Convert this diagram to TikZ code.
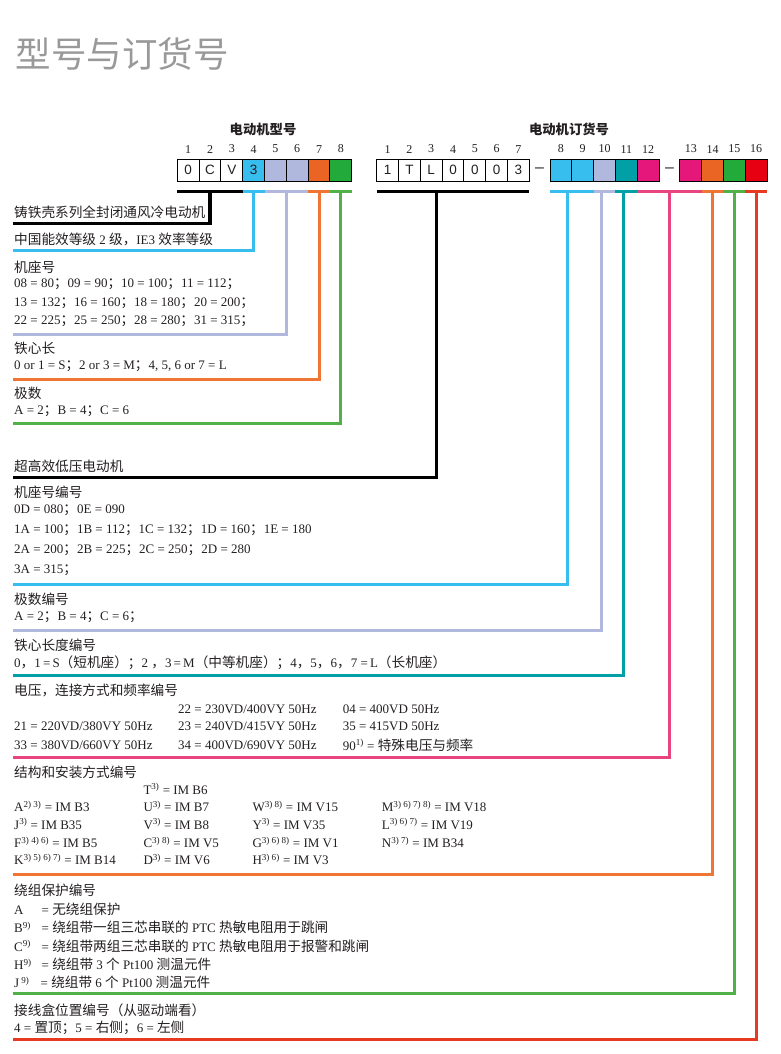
\documentclass[tikz,border=0pt]{standalone}
\usepackage{fontspec}
\setmainfont{Liberation Serif}
\setsansfont{Liberation Sans}
\newfontfamily\cjk[Scale=1.05]{Noto Sans CJK SC}
\usetikzlibrary{positioning,calc}
\newcommand\zh[1]{{\cjk #1}}
\newcommand\fn[1]{\textsuperscript{#1}}
\definecolor{ink}{HTML}{231F20}
\definecolor{titlegray}{HTML}{999999}
\definecolor{cblue}{HTML}{38BDEF}
\definecolor{clav}{HTML}{B0B8DE}
\definecolor{corange}{HTML}{EA6424}
\definecolor{cgreen}{HTML}{22AA3A}
\definecolor{cteal}{HTML}{00A0A6}
\definecolor{cpink}{HTML}{E5177A}
\definecolor{cred}{HTML}{E60012}
\definecolor{lorange}{HTML}{EE7533}
\definecolor{lgreen}{HTML}{52B049}
\definecolor{lpink}{HTML}{E84480}
\definecolor{lred}{HTML}{E83A22}
\tikzstyle{cell}=[draw, line width=1pt, minimum size=21.8pt, inner sep=0pt, outer sep=0pt,
  font=\sffamily\fontsize{13.5}{14}\selectfont, text=ink]
\tikzstyle{num}=[inner sep=0pt, font=\fontsize{12}{12}\selectfont, text=ink]
\tikzstyle{head}=[inner sep=0pt, font=\cjk\bfseries\fontsize{12.7}{14}\selectfont, text=ink]
\tikzstyle{txt}=[anchor=west, inner sep=0pt, font=\fontsize{13}{15}\selectfont, text=ink]
\tikzstyle{bar}=[line width=3pt]
\tikzstyle{link}=[line width=3pt, line join=miter]

\begin{document}
\begin{tikzpicture}[x=1pt,y=-1pt]
  \useasboundingbox (0,0) rectangle (781,1054);
  \node[anchor=west, inner sep=0pt, text=titlegray, font=\cjk\fontsize{33.8}{36}\selectfont]
    (title) at (15.5,53.5) {型号与订货号};

  \node[head] (typehead) at (263,129) {电动机型号};
  \node[head] (orderhead) at (569,129) {电动机订货号};

  \foreach \i/\t/\f in {1/0/white,2/C/white,3/V/white,4/3/cblue,5//clav,6//clav,7//corange,8//cgreen}{
    \node[cell, fill=\f] (a\i) at ({177.3+21.8*(\i-0.5)},170.2) {\t};
    \node[num, above=6pt of a\i] (na\i) {\i};
  }
  \foreach \i/\t in {1/1,2/T,3/L,4/0,5/0,6/0,7/3}{
    \node[cell] (b\i) at ({376.7+21.8*(\i-0.5)},170.2) {\t};
    \node[num, above=6pt of b\i] (nb\i) {\i};
  }
  \foreach \i/\f in {8/cblue,9/cblue,10/clav,11/cteal,12/cpink}{
    \node[cell, fill=\f] (c\i) at ({550+21.8*(\i-7.5)},170.2) {};
    \node[num, above=6pt of c\i] (nc\i) {\i};
  }
  \foreach \i/\f in {13/cpink,14/corange,15/cgreen,16/cred}{
    \node[cell, fill=\f] (d\i) at ({680+21.75*(\i-12.5)},170.2) {};
    \node[num, above=6pt of d\i] (nd\i) {\i};
  }
  \node[inner sep=0pt, text=ink, font=\sffamily\fontsize{16}{16}\selectfont]
    (dashA) at ($(b7.east)!.5!(c8.west)$) {\textendash};
  \node[inner sep=0pt, text=ink, font=\sffamily\fontsize{16}{16}\selectfont]
    (dashB) at ($(c12.east)!.5!(d13.west)$) {\textendash};

  \draw[bar, black] ([yshift=-10pt]a1.south west) -- ([yshift=-10pt]a3.south east);
  \draw[bar, cblue] ([yshift=-10pt]a4.south west) -- ([yshift=-10pt]a4.south east);
  \draw[bar, clav] ([yshift=-10pt]a5.south west) -- ([yshift=-10pt]a6.south east);
  \draw[bar, lorange] ([yshift=-10pt]a7.south west) -- ([yshift=-10pt]a7.south east);
  \draw[bar, lgreen] ([yshift=-10pt]a8.south west) -- ([yshift=-10pt]a8.south east);
  \draw[bar, black] ([yshift=-10pt]b1.south west) -- ([yshift=-10pt]b7.south east);
  \draw[bar, cblue] ([yshift=-10pt]c8.south west) -- ([yshift=-10pt]c9.south east);
  \draw[bar, clav] ([yshift=-10pt]c10.south west) -- ([yshift=-10pt]c10.south east);
  \draw[bar, cteal] ([yshift=-10pt]c11.south west) -- ([yshift=-10pt]c11.south east);
  \draw[bar, lpink] ([yshift=-10pt]c12.south west) -- ([yshift=-10pt]d13.south east);
  \draw[bar, lorange] ([yshift=-10pt]d14.south west) -- ([yshift=-10pt]d14.south east);
  \draw[bar, lgreen] ([yshift=-10pt]d15.south west) -- ([yshift=-10pt]d15.south east);
  \draw[bar, lred] ([yshift=-10pt]d16.south west) -- ([yshift=-10pt]d16.south east);

  \coordinate (kseries) at ([yshift=-10pt]a2.south);
  \coordinate (keff) at ([yshift=-10pt]a4.south);
  \coordinate (kframe) at ([yshift=-10pt]a5.south east);
  \coordinate (kcore) at ([yshift=-10pt]a7.south);
  \coordinate (kpole) at ([yshift=-10pt]a8.south);
  \coordinate (kmotor) at ([xshift=5.5pt,yshift=-10pt]b3.south);
  \coordinate (kframeno) at ([xshift=6.8pt,yshift=-10pt]c8.south);
  \coordinate (kpoleno) at ([xshift=-3.5pt,yshift=-10pt]c10.south);
  \coordinate (kcoreno) at ([xshift=-3pt,yshift=-10pt]c11.south);
  \coordinate (kvolt) at ([yshift=-10pt]$(c12.south east)!.5!(d13.south west)$);
  \coordinate (kmount) at ([yshift=-10pt]d14.south);
  \coordinate (kwind) at ([yshift=-10pt]d15.south);
  \coordinate (kbox) at ([yshift=-10pt]d16.south);

  \coordinate (eseries) at (13,223.3);
  \coordinate (eeff) at (13,250);
  \coordinate (eframe) at (13,334);
  \coordinate (ecore) at (13,379.3);
  \coordinate (epole) at (13,423.3);
  \coordinate (emotor) at (13,477.3);
  \coordinate (eframeno) at (13,584.7);
  \coordinate (epoleno) at (13,630.7);
  \coordinate (ecoreno) at (13,675.5);
  \coordinate (evolt) at (13,757.7);
  \coordinate (emount) at (13,874.7);
  \coordinate (ewind) at (13,993.3);
  \coordinate (ebox) at (13,1039.3);

  \draw[link, black, line width=3.5pt] (kseries) |- (eseries);
  \draw[link, cblue] (keff) |- (eeff);
  \draw[link, clav] (kframe) |- (eframe);
  \draw[link, lorange] (kcore) |- (ecore);
  \draw[link, lgreen] (kpole) |- (epole);
  \draw[link, black, line width=3.5pt] (kmotor) |- (emotor);
  \draw[link, cblue] (kframeno) |- (eframeno);
  \draw[link, clav] (kpoleno) |- (epoleno);
  \draw[link, cteal] (kcoreno) |- (ecoreno);
  \draw[link, lpink] (kvolt) |- (evolt);
  \draw[link, lorange] (kmount) |- (emount);
  \draw[link, lgreen] (kwind) |- (ewind);
  \draw[link, lred] (kbox) |- (ebox);

  \node[txt] (series) at (14,212) {\zh{铸铁壳系列全封闭通风冷电动机}};
  \node[txt] (eff) at (14,239.3) {\zh{中国能效等级} 2 \zh{级，}IE3 \zh{效率等级}};
  \node[txt] (frame) at (14,267) {\zh{机座号}};
  \node[txt] (frameA) at (14,284.3) {08 = 80\zh{；}09 = 90\zh{；}10 = 100\zh{；}11 = 112\zh{；}};
  \node[txt] (frameB) at (14,303) {13 = 132\zh{；}16 = 160\zh{；}18 = 180\zh{；}20 = 200\zh{；}};
  \node[txt] (frameC) at (14,321) {22 = 225\zh{；}25 = 250\zh{；}28 = 280\zh{；}31 = 315\zh{；}};
  \node[txt] (core) at (14,348) {\zh{铁心长}};
  \node[txt] (coreA) at (14,366) {0 or 1 = S\zh{；}2 or 3 = M\zh{；}4, 5, 6 or 7 = L};
  \node[txt] (pole) at (14,393) {\zh{极数}};
  \node[txt] (poleA) at (14,411.7) {A = 2\zh{；}B = 4\zh{；}C = 6};

  \node[txt] (motor) at (14,466) {\zh{超高效低压电动机}};
  \node[txt] (frameno) at (14,492.7) {\zh{机座号编号}};
  \node[txt] (framenoA) at (14,510) {0D = 080\zh{；}0E = 090};
  \node[txt] (framenoB) at (14,530) {1A = 100\zh{；}1B = 112\zh{；}1C = 132\zh{；}1D = 160\zh{；}1E = 180};
  \node[txt] (framenoC) at (14,550) {2A = 200\zh{；}2B = 225\zh{；}2C = 250\zh{；}2D = 280};
  \node[txt] (framenoD) at (14,570) {3A = 315\zh{；}};
  \node[txt] (poleno) at (14,599.3) {\zh{极数编号}};
  \node[txt] (polenoA) at (14,617.3) {A = 2\zh{；}B = 4\zh{；}C = 6\zh{；}};
  \node[txt] (coreno) at (14,645) {\zh{铁心长度编号}};
  \node[txt] (corenoA) at (14,662.7) {0\zh{，}1\,=\,S\zh{（短机座）；}2 \zh{，}3\,=\,M\zh{（中等机座）；}4\zh{，}5\zh{，}6\zh{，}7 =\,L\zh{（长机座）}};

  \node[txt] (volt) at (14,690) {\zh{电压，连接方式和频率编号}};
  \node[txt] (v22) at (178,709) {22 = 230VD/400VY 50Hz};
  \node[txt] (v04) at (342.7,709) {04 = 400VD 50Hz};
  \node[txt] (v21) at (14,726.7) {21 = 220VD/380VY 50Hz};
  \node[txt] (v23) at (178,726.7) {23 = 240VD/415VY 50Hz};
  \node[txt] (v35) at (342.7,726.7) {35 = 415VD 50Hz};
  \node[txt] (v33) at (14,745) {33 = 380VD/660VY 50Hz};
  \node[txt] (v34) at (178,745) {34 = 400VD/690VY 50Hz};
  \node[txt] (v90) at (342.7,745) {90\fn{1)} = \zh{特殊电压与频率}};

  \node[txt] (mount) at (14,772.7) {\zh{结构和安装方式编号}};
  \node[txt] (mT) at (143.3,789) {T\fn{3)} = IM B6};
  \node[txt] (mA) at (14,806.7) {A\fn{2)\ 3)} = IM B3};
  \node[txt] (mU) at (143.3,806.7) {U\fn{3)} = IM B7};
  \node[txt] (mW) at (252.3,806.7) {W\fn{3)\ 8)} = IM V15};
  \node[txt] (mM) at (381.7,806.7) {M\fn{3)\ 6)\ 7)\ 8)} = IM V18};
  \node[txt] (mJ) at (14,824) {J\fn{3)} = IM B35};
  \node[txt] (mV) at (143.3,824) {V\fn{3)} = IM B8};
  \node[txt] (mY) at (252.3,824) {Y\fn{3)} = IM V35};
  \node[txt] (mL) at (381.7,824) {L\fn{3)\ 6)\ 7)} = IM V19};
  \node[txt] (mF) at (14,842.3) {F\fn{3)\ 4)\ 6)} = IM B5};
  \node[txt] (mC) at (143.3,842.3) {C\fn{3)\ 8)} = IM V5};
  \node[txt] (mG) at (252.3,842.3) {G\fn{3)\ 6)\ 8)} = IM V1};
  \node[txt] (mN) at (381.7,842.3) {N\fn{3)\ 7)} = IM B34};
  \node[txt] (mK) at (14,859.3) {K\fn{3)\ 5)\ 6)\ 7)} = IM B14};
  \node[txt] (mD) at (143.3,859.3) {D\fn{3)} = IM V6};
  \node[txt] (mH) at (252.3,859.3) {H\fn{3)\ 6)} = IM V3};

  \node[txt] (wind) at (14,890.7) {\zh{绕组保护编号}};
  \node[txt] (wA) at (14,909.3) {\makebox[27.5pt][l]{A}= \zh{无绕组保护}};
  \node[txt] (wB) at (14,927.3) {\makebox[27.5pt][l]{B\fn{9)}}= \zh{绕组带一组三芯串联的} PTC \zh{热敏电阻用于跳闸}};
  \node[txt] (wC) at (14,946) {\makebox[27.5pt][l]{C\fn{9)}}= \zh{绕组带两组三芯串联的} PTC \zh{热敏电阻用于报警和跳闸}};
  \node[txt] (wH) at (14,964.3) {\makebox[27.5pt][l]{H\fn{9)}}= \zh{绕组带} 3 \zh{个} Pt100 \zh{测温元件}};
  \node[txt] (wJ) at (14,982.7) {\makebox[26.5pt][l]{J\,\fn{9)}}= \zh{绕组带} 6 \zh{个} Pt100 \zh{测温元件}};

  \node[txt] (tbox) at (14,1010) {\zh{接线盒位置编号（从驱动端看）}};
  \node[txt] (tboxA) at (14,1027.7) {4 = \zh{置顶；}5 = \zh{右侧；}6 = \zh{左侧}};
\end{tikzpicture}
\end{document}
